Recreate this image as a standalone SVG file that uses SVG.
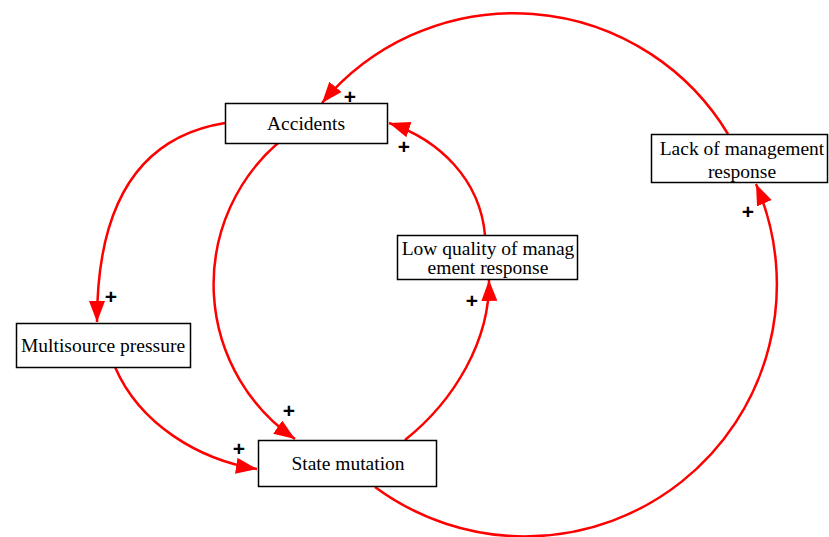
<svg xmlns="http://www.w3.org/2000/svg" width="829" height="537" viewBox="0 0 829 537">
<style>
.box{fill:#fff;stroke:#000;stroke-width:1.5}
.lbl{font-family:"Liberation Serif","Times New Roman",serif;font-size:19.5px;fill:#000;text-anchor:middle}
.link{fill:none;stroke:#ff0000;stroke-width:2.5;marker-end:url(#arr)}
.pol{font-family:"Liberation Sans",Arial,sans-serif;font-size:21px;font-weight:bold;fill:#000;text-anchor:middle}
</style>
<defs>
<marker id="arr" markerUnits="userSpaceOnUse" markerWidth="24" markerHeight="18" refX="21" refY="8" orient="auto">
<path d="M0,0 L21,8 L0,16 Z" fill="#ff0000"/>
</marker>
</defs>
<rect width="829" height="537" fill="#fff"/>
<g id="connectors">
<path class="link" d="M728,134 A250,250 0 0 0 322,103"/>
<path class="link" d="M225,123 C150,135 97,190 97,322"/>
<path class="link" d="M278,143 A187.5,187.5 0 0 0 295,439"/>
<path class="link" d="M115,367 C140,425 200,460 257,469"/>
<path class="link" d="M405,440 C455,400 490,340 489,280"/>
<path class="link" d="M485,235 C480,180 440,140 389,123"/>
<path class="link" d="M375,487 A252,252 0 0 0 756,184"/>
</g>
<g id="polarities">
<text class="pol" x="350" y="104">+</text>
<text class="pol" x="404" y="154">+</text>
<text class="pol" x="111" y="304">+</text>
<text class="pol" x="289" y="418">+</text>
<text class="pol" x="239" y="456">+</text>
<text class="pol" x="472" y="308">+</text>
<text class="pol" x="748" y="219">+</text>
</g>
<g id="accidents">
<rect class="box" x="225.5" y="103.5" width="162" height="40"/>
<text class="lbl" x="306" y="130">Accidents</text>
</g>
<g id="low-quality">
<rect class="box" x="397.5" y="235.5" width="180" height="44"/>
<text class="lbl" x="488" y="255">Low quality of manag</text>
<text class="lbl" x="488" y="274">ement response</text>
</g>
<g id="lack-response">
<rect class="box" x="651.5" y="134.5" width="176" height="48"/>
<text class="lbl" x="742" y="155">Lack of management</text>
<text class="lbl" x="742" y="178">response</text>
</g>
<g id="multisource">
<rect class="box" x="16.5" y="323.5" width="174" height="44"/>
<text class="lbl" x="103" y="352">Multisource pressure</text>
</g>
<g id="state-mutation">
<rect class="box" x="258.5" y="440.5" width="178" height="46"/>
<text class="lbl" x="348" y="470">State mutation</text>
</g>
</svg>
